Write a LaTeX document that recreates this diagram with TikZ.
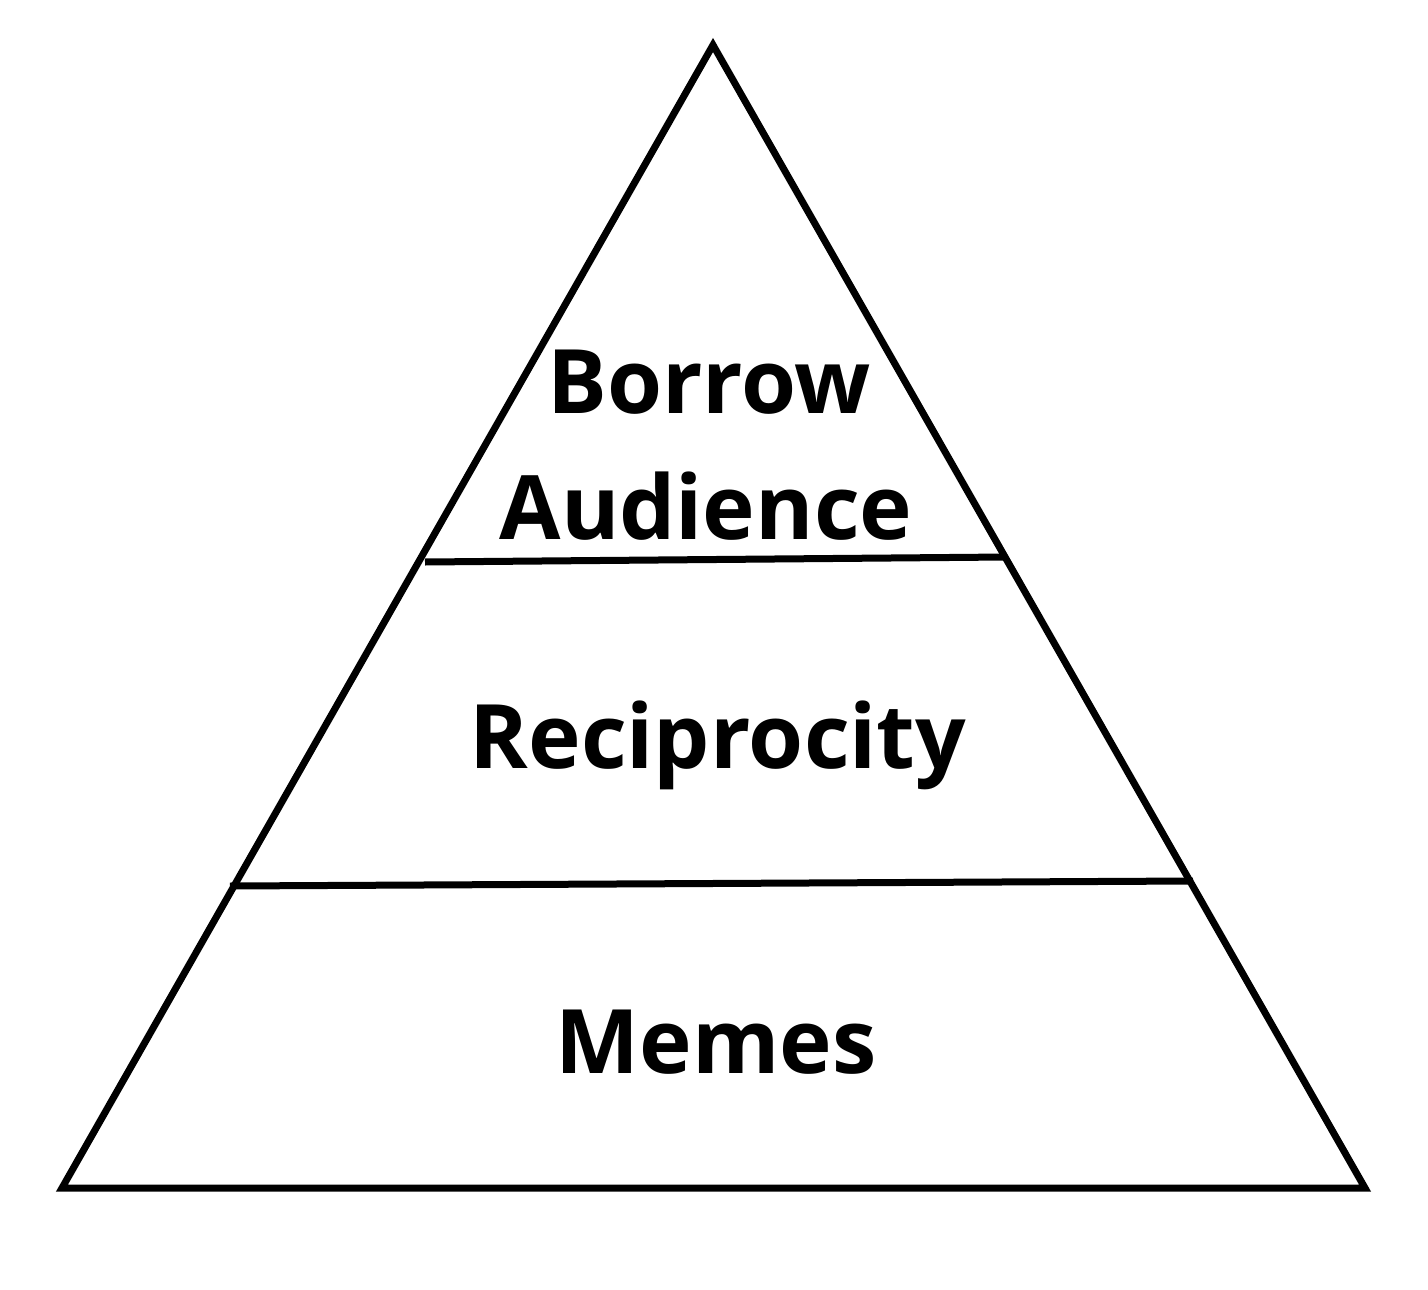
\documentclass[tikz,border=0pt]{standalone}
\usepackage{fontspec}
\setmainfont{Open Sans}

\begin{document}
\begin{tikzpicture}[
  x=1pt, y=-1pt,
  edge/.style={line width=7pt, line join=miter},
  lbl/.style={font=\fontsize{89}{100}\selectfont\bfseries, inner sep=0pt, anchor=base}
]
\useasboundingbox (0,0) rectangle (1428,1290);
\coordinate (apex) at (713,45);
\coordinate (bl) at (62,1188);
\coordinate (br) at (1365,1188);
\coordinate (d1l) at (425,562);
\coordinate (d1r) at (1007,557);
\coordinate (d2l) at (230,886);
\coordinate (d2r) at (1193,881);
\draw[edge] (apex) -- (bl) -- (br) -- cycle;
\draw[edge] (d1l) -- (d1r);
\draw[edge] (d2l) -- (d2r);
\node[lbl] (borrow) at (709,413) {Borrow};
\node[lbl] (audience) at (706,539) {Audience};
\node[lbl] (recip) at (718,768) {Reciprocity};
\node[lbl] (memes) at (716,1073) {Memes};
\end{tikzpicture}
\end{document}
